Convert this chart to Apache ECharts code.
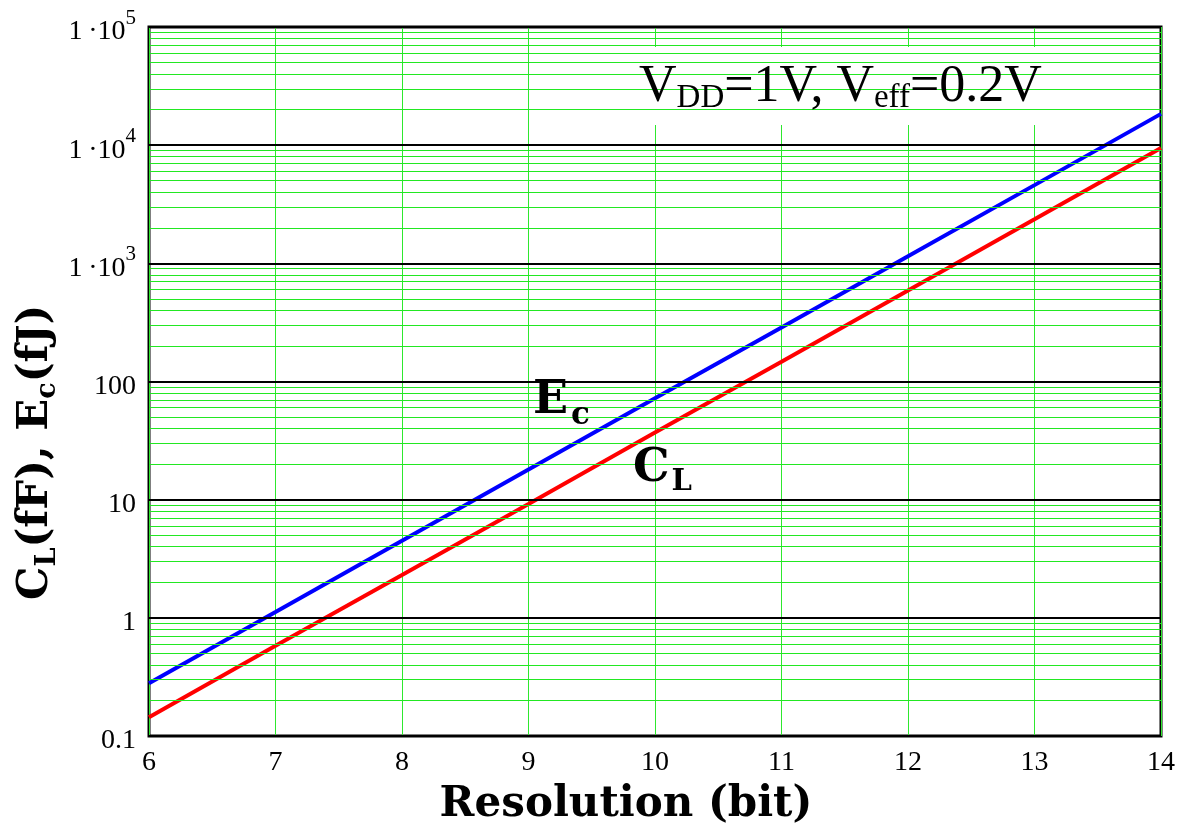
<!DOCTYPE html>
<html>
<head>
<meta charset="utf-8">
<script src="https://cdn.jsdelivr.net/npm/echarts@6/dist/echarts.min.js"></script>
<style>
  html, body { margin: 0; padding: 0; background: #fff; }
  #chart { width: 1180px; height: 827px; }
</style>
</head>
<body>
<div id="chart"></div>
<script>
// Resolution in bits
const bits = [6, 7, 8, 9, 10, 11, 12, 13, 14];
// Load capacitance C_L (fF)
const capLoad = [0.144, 0.58, 2.3, 9.2, 37, 147, 590, 2360, 9450];
// Switching energy E_c (fJ)
const switchEnergy = [0.28, 1.12, 4.5, 18, 72, 287, 1150, 4590, 18400];
// Decade gridlines and the minor steps inside each decade
const decades = [0.1, 1, 10, 100, 1000, 10000, 100000];
const minorSteps = [2, 3, 4, 5, 6, 7, 8, 9];
// Tick labels for each decade
const yTickLabels = {
  '-1': '{b|0.1}', '0': '{b|1}', '1': '{b|10}', '2': '{b|100}',
  '3': '{b|1\u2009·10}{sup|3}', '4': '{b|1\u2009·10}{sup|4}', '5': '{b|1\u2009·10}{sup|5}'
};

const serif = '"Liberation Serif", "Times New Roman", serif';
const heavy = '"DejaVu Serif", serif';

const minorLines = [];
decades.slice(0, -1).forEach(d => minorSteps.forEach(k => minorLines.push({ yAxis: d * k })));
const majorLines = decades.map(d => ({ yAxis: d }));

const chart = echarts.init(document.getElementById('chart'), null, { renderer: 'canvas' });

chart.setOption({
  animation: false,
  backgroundColor: '#ffffff',
  grid: {
    left: 149, right: 19, top: 27, bottom: 91,
    outerBoundsMode: 'none', containLabel: false,
    show: true, borderColor: '#000', borderWidth: 3, backgroundColor: 'transparent'
  },
  xAxis: {
    type: 'value', min: 6, max: 14, interval: 1,
    axisLine: { show: false },
    axisTick: { show: false },
    axisLabel: { color: '#000', fontFamily: serif, fontSize: 28, margin: 13 },
    splitLine: { show: true, lineStyle: { color: '#2ee82e', width: 1, type: 'solid', opacity: 1 } },
    name: 'Resolution (bit)',
    nameLocation: 'middle', nameGap: 48,
    nameTextStyle: { color: '#000', fontFamily: heavy, fontWeight: 'bold', fontSize: 42, padding: [0, 58, 0, 0] }
  },
  yAxis: {
    type: 'log', logBase: 10, min: 0.1, max: 100000,
    axisLine: { show: false },
    axisTick: { show: false },
    splitLine: { show: false },
    minorSplitLine: { show: false },
    axisLabel: {
      color: '#000', margin: 13,
      formatter: v => yTickLabels[String(Math.round(Math.log10(v)))] || '',
      rich: {
        b: { fontFamily: serif, fontSize: 28, color: '#000', padding: [10, 0, 0, 0], verticalAlign: 'bottom' },
        sup: { fontFamily: serif, fontSize: 21, color: '#000', verticalAlign: 'top' }
      }
    }
  },
  graphic: [
    {
      type: 'rect', shape: { x: 616, y: 47, width: 452, height: 78 },
      style: { fill: '#fff' }, z: 5
    },
    {
      type: 'text', left: 639, top: 61, z: 6,
      style: {
        text: '{m|V}{sub|DD}{m|=1V, V}{sub|eff}{m|=0.2V}',
        fill: '#000',
        rich: {
          m: { fontFamily: serif, fontSize: 52, verticalAlign: 'top', fill: '#000' },
          sub: { fontFamily: serif, fontSize: 33, padding: [21, 0, 0, 0], verticalAlign: 'top', fill: '#000' }
        }
      }
    },
    {
      type: 'text', left: 533, top: 378, z: 6,
      style: {
        text: '{m|E}{sub|c}', fill: '#000',
        rich: {
          m: { fontFamily: heavy, fontWeight: 'bold', fontSize: 46, verticalAlign: 'top', fill: '#000' },
          sub: { fontFamily: heavy, fontWeight: 'bold', fontSize: 31, padding: [22, 0, 0, 3], verticalAlign: 'top', fill: '#000' }
        }
      }
    },
    {
      type: 'text', left: 633, top: 446, z: 6,
      style: {
        text: '{m|C}{sub|L}', fill: '#000',
        rich: {
          m: { fontFamily: heavy, fontWeight: 'bold', fontSize: 46, verticalAlign: 'top', fill: '#000' },
          sub: { fontFamily: heavy, fontWeight: 'bold', fontSize: 29, padding: [22, 0, 0, 2], verticalAlign: 'top', fill: '#000' }
        }
      }
    },
    {
      type: 'text', x: 15, y: 600, rotation: Math.PI / 2, z: 6,
      style: {
        text: '{m|C}{sub|L}{m|(fF), E}{sub|c}{m|(fJ)}', fill: '#000',
        rich: {
          m: { fontFamily: heavy, fontWeight: 'bold', fontSize: 42, verticalAlign: 'top', fill: '#000' },
          sub: { fontFamily: heavy, fontWeight: 'bold', fontSize: 27, padding: [19, 0, 0, 0], verticalAlign: 'top', fill: '#000' }
        }
      }
    }
  ],
  series: [
    {
      // minor decade subdivisions
      type: 'line', data: [], z: 1, silent: true,
      markLine: {
        silent: true, symbol: 'none', label: { show: false }, animation: false,
        lineStyle: { color: '#22e822', width: 1, type: 'solid' },
        data: minorLines
      }
    },
    {
      // decade lines
      type: 'line', data: [], z: 1.5, silent: true,
      markLine: {
        silent: true, symbol: 'none', label: { show: false }, animation: false,
        lineStyle: { color: '#000', width: 2, type: 'solid' },
        data: majorLines
      }
    },
    {
      name: 'E_c', type: 'line', z: 3, symbol: 'none',
      lineStyle: { color: '#0000ff', width: 4 },
      data: bits.map((b, i) => [b, switchEnergy[i]])
    },
    {
      name: 'C_L', type: 'line', z: 3, symbol: 'none',
      lineStyle: { color: '#ff0000', width: 4 },
      data: bits.map((b, i) => [b, capLoad[i]])
    }
  ]
});
</script>
</body>
</html>
